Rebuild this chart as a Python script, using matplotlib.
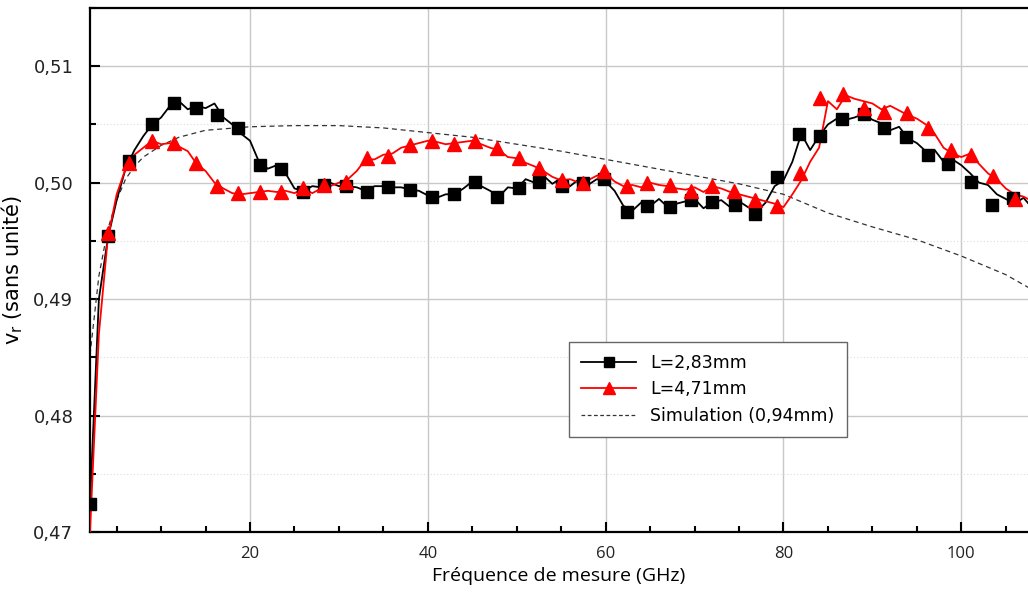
import numpy as np
import matplotlib
matplotlib.use("Agg")
import matplotlib.pyplot as plt
from matplotlib.ticker import MultipleLocator, FuncFormatter
from matplotlib.lines import Line2D

# frequency grid of the measured curves (GHz)
freq = np.arange(2, 109, 1)

# L=2,83mm : measured curve
black_line = [0.4724, 0.4900, 0.4952, 0.4985, 0.5012, 0.5028, 0.5040, 0.5050, 0.5056, 0.5066,
              0.5070, 0.5063, 0.5066, 0.5064, 0.5068, 0.5056, 0.5050, 0.5042, 0.5036, 0.5018,
              0.5012, 0.5015, 0.5008, 0.4995, 0.4993, 0.4997, 0.4996, 0.5000, 0.4997, 0.4997,
              0.4996, 0.4993, 0.4997, 0.4997, 0.4996, 0.4996, 0.4994, 0.4993, 0.4989, 0.4987,
              0.4990, 0.4990, 0.4995, 0.5001, 0.4997, 0.4993, 0.4988, 0.4996, 0.4995, 0.5003,
              0.5000, 0.5006, 0.4999, 0.5004, 0.4997, 0.5003, 0.4998, 0.5003, 0.5001, 0.4993,
              0.4980, 0.4976, 0.4983, 0.4980, 0.4986, 0.4979, 0.4982, 0.4984, 0.4986, 0.4978,
              0.4983, 0.4985, 0.4979, 0.4984, 0.4979, 0.4975, 0.4983, 0.4997, 0.5002, 0.5018,
              0.5042, 0.5028, 0.5040, 0.5050, 0.5055, 0.5054, 0.5056, 0.5059, 0.5054, 0.5051,
              0.5045, 0.5048, 0.5038, 0.5034, 0.5027, 0.5028, 0.5018, 0.5020, 0.5015, 0.5008,
              0.5000, 0.4998, 0.4990, 0.4986, 0.4982, 0.4987, 0.4978]

# L=4,71mm : measured curve
red_line = [0.4700, 0.4870, 0.4952, 0.4990, 0.5012, 0.5024, 0.5030, 0.5036, 0.5033, 0.5034,
            0.5031, 0.5027, 0.5016, 0.5010, 0.5000, 0.4995, 0.4991, 0.4990, 0.4991, 0.4992,
            0.4993, 0.4992, 0.4993, 0.4991, 0.4995, 0.4991, 0.4995, 0.4997, 0.5000, 0.5003,
            0.5010, 0.5020, 0.5020, 0.5024, 0.5025, 0.5030, 0.5032, 0.5034, 0.5036, 0.5035,
            0.5033, 0.5034, 0.5035, 0.5036, 0.5033, 0.5030, 0.5028, 0.5022, 0.5021, 0.5017,
            0.5014, 0.5010, 0.5005, 0.5002, 0.5003, 0.5000, 0.5002, 0.5006, 0.5008, 0.5001,
            0.4997, 0.4998, 0.4996, 0.5000, 0.4998, 0.4997, 0.4995, 0.4994, 0.4996, 0.4992,
            0.4997, 0.4995, 0.4992, 0.4990, 0.4988, 0.4986, 0.4984, 0.4982, 0.4979, 0.4990,
            0.5002, 0.5018, 0.5030, 0.5070, 0.5063, 0.5075, 0.5072, 0.5070, 0.5068, 0.5063,
            0.5066, 0.5062, 0.5058, 0.5055, 0.5050, 0.5042, 0.5030, 0.5025, 0.5022, 0.5025,
            0.5016, 0.5008, 0.5003, 0.4995, 0.4990, 0.4988, 0.4984]

# marker points
black_mx = [2.0, 4.05, 6.4, 9.0, 11.5, 13.95, 16.3, 18.7, 21.1, 23.5, 26.0, 28.35, 30.8, 33.2,
            35.5, 38.0, 40.5, 42.9, 45.3, 47.8, 50.2, 52.5, 55.1, 57.5, 59.8, 62.4, 64.7, 67.2,
            69.6, 72.0, 74.5, 76.8, 79.3, 81.7, 84.1, 86.6, 89.0, 91.3, 93.8, 96.3, 98.5, 101.1,
            103.5, 105.8]
black_my = [0.4724, 0.4954, 0.5019, 0.5050, 0.5068, 0.5064, 0.5058, 0.5047, 0.5015, 0.5012,
            0.4992, 0.4998, 0.4997, 0.4992, 0.4996, 0.4994, 0.4988, 0.4990, 0.5001, 0.4988,
            0.4995, 0.5001, 0.4997, 0.5000, 0.5003, 0.4975, 0.4980, 0.4979, 0.4985, 0.4983,
            0.4981, 0.4973, 0.5005, 0.5042, 0.5040, 0.5055, 0.5059, 0.5047, 0.5039, 0.5024,
            0.5016, 0.5001, 0.4981, 0.4987]

red_mx = [4.05, 6.4, 9.0, 11.5, 13.95, 16.3, 18.7, 21.1, 23.5, 26.0, 28.35, 30.8, 33.2, 35.5,
          38.0, 40.5, 42.9, 45.3, 47.8, 50.2, 52.5, 55.1, 57.5, 59.8, 62.4, 64.7, 67.2, 69.6,
          72.0, 74.4, 76.8, 79.3, 81.8, 84.1, 86.7, 89.0, 91.3, 93.9, 96.3, 98.8, 101.1, 103.6,
          106.0]
red_my = [0.4957, 0.5017, 0.5036, 0.5034, 0.5017, 0.4997, 0.4991, 0.4992, 0.4992, 0.4995,
          0.4998, 0.5001, 0.5021, 0.5023, 0.5032, 0.5036, 0.5033, 0.5036, 0.5030, 0.5021,
          0.5013, 0.5002, 0.5000, 0.5010, 0.4997, 0.5000, 0.4998, 0.4993, 0.4997, 0.4993,
          0.4985, 0.4980, 0.5008, 0.5073, 0.5076, 0.5064, 0.5061, 0.5060, 0.5047, 0.5028,
          0.5024, 0.5006, 0.4986]

# simulation (0,94mm)
sim_x = [2, 3, 4, 5, 6, 7, 8, 10, 12, 15, 20, 25, 30, 35, 40, 45, 50, 55, 60, 65, 70, 75,
         80, 85, 90, 95, 100, 105, 108]
sim_y = [0.4852, 0.4920, 0.4960, 0.4985, 0.5003, 0.5014, 0.5022, 0.5032, 0.5039, 0.5045,
         0.5048, 0.5049, 0.5049, 0.5047, 0.5043, 0.5039, 0.5033, 0.5027, 0.5020, 0.5013,
         0.5006, 0.4999, 0.4990, 0.4974, 0.4962, 0.4951, 0.4937, 0.4921, 0.4908]

fig = plt.figure(figsize=(10.28, 5.95), dpi=100)
ax = fig.add_axes([90 / 1028, 63 / 595, 938 / 1028, 524 / 595])

ax.plot(sim_x, sim_y, color="#333333", lw=0.9, ls=(0, (4, 3)), zorder=2)
ax.plot(freq, black_line, color="black", lw=1.3, zorder=3)
ax.plot(black_mx, black_my, ls="none", marker="s", ms=8.5, color="black", zorder=4)
ax.plot(freq, red_line, color="red", lw=1.3, zorder=3)
ax.plot(red_mx, red_my, ls="none", marker="^", ms=10, color="red", zorder=4)

ax.set_xlim(2, 107.5)
ax.set_ylim(0.47, 0.515)

ax.xaxis.set_major_locator(MultipleLocator(20))
ax.xaxis.set_minor_locator(MultipleLocator(5))
ax.yaxis.set_major_locator(MultipleLocator(0.01))
ax.yaxis.set_minor_locator(MultipleLocator(0.005))
ax.yaxis.set_major_formatter(FuncFormatter(lambda v, p: f"{v:.2f}".replace(".", ",")))

ax.grid(True, which="major", color="#c8c8c8", lw=1.0)
ax.grid(True, which="minor", axis="y", color="#dddddd", lw=0.8, ls=(0, (1, 2)))
ax.set_axisbelow(True)

ax.tick_params(which="both", direction="in", top=False, right=False, width=1.5)
ax.tick_params(which="major", length=7)
ax.tick_params(which="minor", length=4)
ax.tick_params(axis="y", labelsize=13, pad=12, labelcolor="#222222")
ax.tick_params(axis="x", labelsize=12, pad=10, labelcolor="#222222")
for lab in ax.get_xticklabels():
    lab.set_family("Open Sans")

for s in ax.spines.values():
    s.set_linewidth(1.6)
ax.spines["right"].set_visible(False)

ax.set_xlabel("Fréquence de mesure (GHz)", fontsize=14, family="Open Sans", labelpad=4)
ax.set_ylabel(r"v$_\mathregular{r}$ (sans unité)", fontsize=15, labelpad=6)

handles = [
    Line2D([], [], color="black", lw=1.3, marker="s", ms=7),
    Line2D([], [], color="red", lw=1.3, marker="^", ms=8),
    Line2D([], [], color="#333333", lw=0.9, ls=(0, (3, 2))),
]
leg = ax.legend(handles, ["L=2,83mm", "L=4,71mm", "Simulation (0,94mm)"],
                loc="upper left", bbox_to_anchor=(0.501, 0.38), fontsize=12.5,
                fancybox=False, framealpha=1, edgecolor="#666666", handlelength=3.2,
                borderpad=0.7, labelspacing=0.5)
leg.get_frame().set_linewidth(1.0)

fig.savefig("out.png", dpi=100)
